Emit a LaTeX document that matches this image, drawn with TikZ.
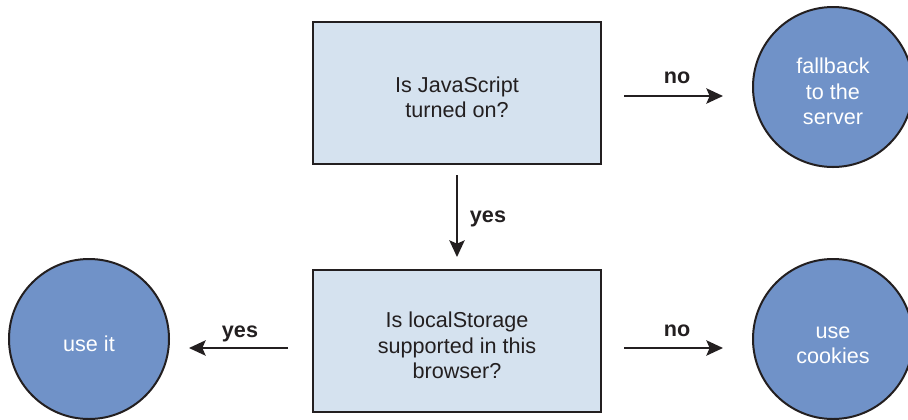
\documentclass[tikz,border=0pt]{standalone}
\usepackage{fontspec}
\setmainfont{Liberation Sans}
\usetikzlibrary{arrows.meta}
\definecolor{boxfill}{RGB}{213,226,239}
\definecolor{circfill}{RGB}{112,146,200}
\definecolor{inkc}{RGB}{35,31,32}
\newcommand{\lowtext}[1]{\raisebox{-5.3pt}[\height][\depth]{\begin{tabular}{@{}c@{}}#1\end{tabular}}}
\tikzset{
  qbox/.style={draw=inkc, line width=1.5pt, fill=boxfill, minimum width=216pt, minimum height=106.5pt, text=inkc, font=\fontsize{16.2pt}{19pt}\selectfont, inner sep=0pt},
  endc/.style={draw=inkc, line width=1.5pt, fill=circfill, circle, minimum size=120pt, text=white, font=\fontsize{16.2pt}{19pt}\selectfont, inner sep=0pt},
  arr/.style={draw=inkc, line width=1.5pt, -{Stealth[length=12.5pt, width=11.5pt, inset=2.5pt]}},
  lbl/.style={text=inkc, font=\fontsize{16.2pt}{19pt}\selectfont\bfseries, inner sep=0pt}
}
\begin{document}
\begin{tikzpicture}[x=0.75pt, y=-0.75pt]
\useasboundingbox (0,0) rectangle (908,419);
\node[qbox] (q1) at (457,93) {\lowtext{Is JavaScript\\turned on?}};
\node[qbox] (q2) at (457,341) {\lowtext{Is localStorage\\supported in this\\browser?}};
\node[endc] (fb) at (833,87) {\lowtext{fallback\\to the\\server}};
\node[endc] (use) at (89,339) {\lowtext{use it}};
\node[endc] (ck) at (833,339) {\lowtext{use\\cookies}};
\coordinate (a1s) at (624,96);
\coordinate (a1e) at (723,96);
\coordinate (a2s) at (457,175);
\coordinate (a2e) at (457,257);
\coordinate (a3s) at (288,348);
\coordinate (a3e) at (189,348);
\coordinate (a4s) at (624,348);
\coordinate (a4e) at (723,348);
\draw[arr] (a1s) -- (a1e);
\draw[arr] (a2s) -- (a2e);
\draw[arr] (a3s) -- (a3e);
\draw[arr] (a4s) -- (a4e);
\node[lbl] (l1) at (677,78) {no};
\node[lbl] (l2) at (488,219) {yes};
\node[lbl] (l3) at (240,334) {yes};
\node[lbl] (l4) at (677,331) {no};
\end{tikzpicture}
\end{document}
